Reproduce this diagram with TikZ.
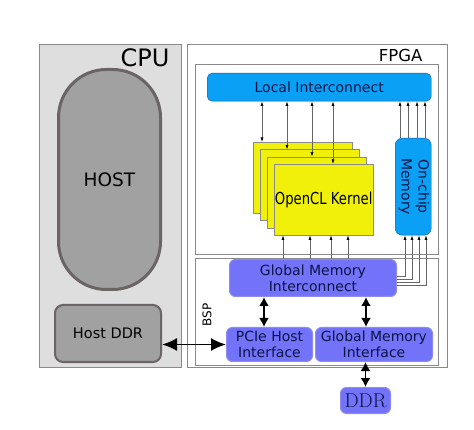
\documentclass[tikz,border=0pt]{standalone}
\usepackage{fontspec}
\setsansfont{DejaVu Sans}
\newfontfamily\condfont[FakeStretch=0.8]{DejaVu Sans}
\usetikzlibrary{arrows.meta}
\definecolor{cpugray}{RGB}{222,222,222}
\definecolor{boxgray}{RGB}{138,138,138}
\definecolor{hostfill}{RGB}{161,161,161}
\definecolor{hostdraw}{RGB}{108,100,100}
\definecolor{liblue}{RGB}{10,160,245}
\definecolor{lidraw}{RGB}{25,85,150}
\definecolor{gmblue}{RGB}{115,115,250}
\definecolor{gmdraw}{RGB}{140,140,235}
\definecolor{kyellow}{RGB}{240,240,10}
\definecolor{navy}{RGB}{10,20,70}
\begin{document}
\begin{tikzpicture}[x=1pt,y=-1pt,
frame/.style={%
draw=boxgray,
line width=1pt,
anchor=north west,
inner sep=0pt
},
blk/.style={%
anchor=north west,
inner sep=0pt,
align=center,
text=navy,
font=\sffamily\fontsize{14}{16}\selectfont
},
blue/.style={%
blk,
fill=liblue,
draw=lidraw,
rounded corners=5pt
},
gm/.style={%
blk,
fill=gmblue,
draw=gmdraw,
line width=1pt,
rounded corners=6pt
},
kern/.style={%
anchor=north west,
fill=kyellow,
draw=boxgray,
minimum width=99pt,
minimum height=71pt,
inner sep=0pt
},
wire/.style={%
draw=black!60,
line width=0.6pt,
{Latex[length=4.5pt,width=3pt,black]}-{Latex[length=4.5pt,width=3pt,black]}
},
upwire/.style={%
draw=black!60,
line width=0.6pt,
-{Latex[length=4.5pt,width=3pt,black]}
},
bus/.style={%
line width=1.8pt,
{Latex[length=9pt,width=10pt]}-{Latex[length=9pt,width=10pt]}
},
]
\useasboundingbox (0,0) rectangle (474,430);
%% CPU side
\node[frame,fill=cpugray,minimum width=142pt,minimum height=323pt](cpu)at(39,44){};
\node[anchor=east,font=\sffamily\fontsize{24}{24}\selectfont](cpulbl)at(173,58){CPU};
\node[frame,fill=hostfill,draw=hostdraw,line width=3pt,rounded corners=48pt,
minimum width=102pt,minimum height=220pt,font=\sffamily\fontsize{18.5}{18}\selectfont](host)at(57,68){HOST};
\node[frame,fill=hostfill,draw=hostdraw,line width=2pt,rounded corners=8pt,
minimum width=106pt,minimum height=57pt,font=\sffamily\fontsize{14.5}{14}\selectfont](hddr)at(54,304){Host DDR};
%% FPGA side
\node[frame,fill=white,minimum width=260pt,minimum height=323pt](fpga)at(187,44){};
\node[anchor=east,font=\sffamily\fontsize{16.5}{16}\selectfont](fpgalbl)at(426,55){FPGA};
\node[frame,minimum width=243pt,minimum height=190pt](krn)at(195,64){};
\node[frame,minimum width=243pt,minimum height=107pt](bsp)at(195,258){};
\node[rotate=90,font=\sffamily\fontsize{12}{12}\selectfont](bsplbl)at(207,315){BSP};
%% blocks
\node[blue,minimum width=224pt,minimum height=28pt](li)at(207,73){Local Interconnect};
\foreach \i in {0,...,3}
\node[kern](k\i)at(253+7*\i,142+7.3*\i){};
\node[font=\condfont\fontsize{16.5}{16}\selectfont](klbl)at(k3.center){OpenCL Kernel};
\node[blue,rounded corners=7pt,minimum width=36pt,minimum height=97pt](ocm)at(395,138)
{\rotatebox{-90}{\begin{tabular}{@{}c@{}}On-chip\\[1pt]Memory\end{tabular}}};
\node[gm,minimum width=167pt,minimum height=37pt](gmi)at(229,259){Global Memory\\Interconnect};
\node[gm,minimum width=86pt,minimum height=34pt](pcie)at(226,327){PCIe Host\\Interface};
\node[gm,minimum width=117pt,minimum height=34pt](gmif)at(315,327){Global Memory\\Interface};
\node[gm,minimum width=50pt,minimum height=26pt,font=\rmfamily\fontsize{20}{20}\selectfont](ddr)at(340,387){DDR};
%% wires
\foreach \x/\k in {262/0,287/1,312/2,333/3}
\path[wire](li.south -| \x,0)--(k\k.north -| \x,0);
\foreach \x in {400,408,417,425}
\path[upwire](ocm.north -| \x,0)--(li.south -| \x,0);
\foreach \x in {283,310,331,348}
\path[upwire](gmi.north -| \x,0)--(k3.south -| \x,0);
\foreach \i in {0,...,3}
\path[upwire](gmi.east |- 0,276+3*\i)--(405+7*\i,276+3*\i)--(ocm.south -| 405+7*\i,0);
%% buses
\draw[bus](gmi.south -| 264,0)--(pcie.north -| 264,0);
\draw[bus](gmi.south -| 366,0)--(gmif.north -| 366,0);
\draw[bus](ddr.north)--(ddr.north |- gmif.south);
\draw[bus,{Latex[length=15pt,width=13pt]}-{Latex[length=15pt,width=13pt]}](pcie.west)--(pcie.west -| hddr.east);
\end{tikzpicture}
\end{document}
